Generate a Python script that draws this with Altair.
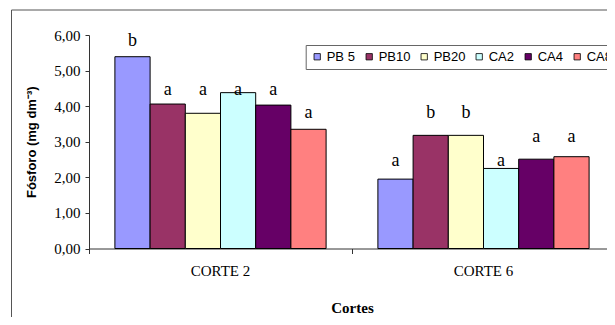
import altair as alt
import pandas as pd

cortes = ["CORTE 2", "CORTE 6"]
series = ["PB 5", "PB10", "PB20", "CA2", "CA4", "CA8"]
colors = ["#9999FF", "#993366", "#FFFFCC", "#CCFFFF", "#660066", "#FF8080"]
corte2 = [5.39, 4.06, 3.80, 4.38, 4.03, 3.35]
corte6 = [1.95, 3.18, 3.18, 2.25, 2.51, 2.58]
letters2 = ["b", "a", "a", "a", "a", "a"]
letters6 = ["a", "b", "b", "a", "a", "a"]
letter_pos2 = [5.68, 4.31, 4.31, 4.31, 4.31, 3.66]
letter_pos6 = [2.32, 3.66, 3.66, 2.32, 2.98, 2.98]
y_ticks = [0, 1, 2, 3, 4, 5, 6]

rows = []
for c, vals, lets, lpos in [(cortes[0], corte2, letters2, letter_pos2),
                            (cortes[1], corte6, letters6, letter_pos6)]:
    for s, v, l, p in zip(series, vals, lets, lpos):
        rows.append({"corte": c, "serie": s, "valor": v, "letra": l, "pos": p})
df = pd.DataFrame(rows)

x_scale = alt.Scale(paddingInner=0, paddingOuter=0, range=[0, 526])
x_axis = alt.Axis(title="Cortes", labelAngle=0, bandPosition=0,
                  tickSize=5, tickColor="#333", domainColor="#333",
                  labelFont="Liberation Serif", labelFontSize=15,
                  labelColor="#000", labelBaseline="alphabetic",
                  labelPadding=21.5,
                  titleFont="Liberation Serif", titleFontSize=15,
                  titleFontWeight="bold", titleColor="#000",
                  titleBaseline="alphabetic", titleY=64.2, titleX=263)
off_scale = alt.Scale(paddingInner=0, paddingOuter=0.736)
y_scale = alt.Scale(domain=[0, 6], nice=False)
y_axis = alt.Axis(values=y_ticks, grid=False, tickSize=4,
                  tickColor="#333", domainColor="#333",
                  labelOverlap=False,
                  labelExpr="replace(format(datum.value, '.2f'), '.', ',')",
                  labelFont="Liberation Serif", labelFontSize=15,
                  labelColor="#000", labelPadding=5,
                  title="Fósforo (mg dm⁻³)", titleFont="Liberation Sans",
                  titleFontSize=13, titleFontWeight="bold", titleColor="#000",
                  titleAngle=270, titleX=-58, titleY=106.75,
                  titleAlign="center", titleBaseline="middle")

bars = alt.Chart(df).mark_bar(stroke="black", strokeWidth=1).encode(
    x=alt.X("corte:N", sort=cortes, scale=x_scale, axis=x_axis),
    xOffset=alt.XOffset("serie:N", sort=series, scale=off_scale),
    y=alt.Y("valor:Q", scale=y_scale, axis=y_axis),
    color=alt.Color("serie:N", sort=series,
                    scale=alt.Scale(domain=series, range=colors),
                    legend=alt.Legend(orient="none", legendX=216.7, legendY=10,
                                      direction="horizontal", title=None,
                                      symbolType="square", symbolSize=40,
                                      symbolStrokeColor="black", symbolStrokeWidth=0.8,
                                      strokeColor="#666", fillColor="white",
                                      padding=5, labelFont="Liberation Sans",
                                      labelFontSize=13, labelColor="#000",
                                      labelOffset=3, columnPadding=7)),
)

labels = alt.Chart(df).mark_text(font="Liberation Serif", fontSize=18,
                                 baseline="alphabetic", align="center",
                                 color="#000").encode(
    x=alt.X("corte:N", sort=cortes, scale=x_scale, axis=x_axis),
    xOffset=alt.XOffset("serie:N", sort=series, scale=off_scale),
    y=alt.Y("pos:Q", scale=y_scale, axis=y_axis),
    text="letra:N",
)

one = pd.DataFrame({"k": [0]})
border_v = alt.Chart(one).mark_rule(color="#555", strokeWidth=1).encode(
    x=alt.value(-77.5), y=alt.value(-25), y2=alt.value(400))
border_h = alt.Chart(one).mark_rule(color="#555", strokeWidth=1).encode(
    x=alt.value(-77.5), x2=alt.value(700), y=alt.value(-25))

chart = alt.layer(bars, labels, border_v, border_h).properties(
    width=518, height=213.5,
    autosize=alt.AutoSizeParams(type="none"),
    padding={"left": 81, "top": 27, "right": 0, "bottom": 68},
).configure_view(strokeWidth=0)

chart.save("out.html", embed_options={"renderer": "svg", "actions": False})
